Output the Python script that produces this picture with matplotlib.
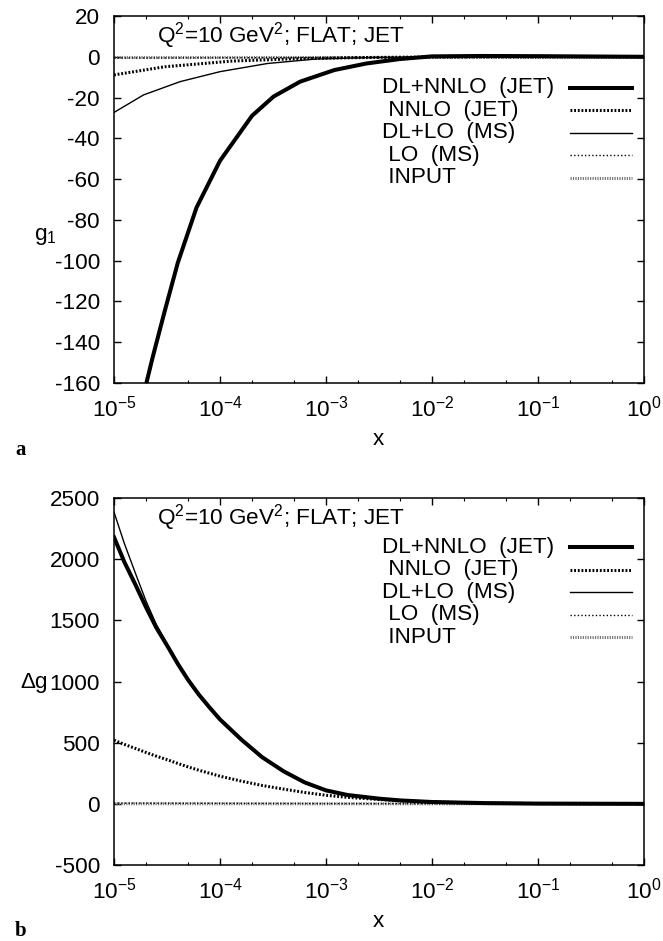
#!/usr/bin/env python3
"""
g1 y Delta g a Q^2 = 10 GeV^2 (FLAT; JET), dos paneles estilo gnuplot
"""

import matplotlib
matplotlib.use('Agg')
import matplotlib.pyplot as plt
from matplotlib.ticker import LogLocator, NullFormatter, MultipleLocator

# ---------------- datos panel a: g1 ----------------
x_g1_dlnnlo = [1e-5, 1.5e-5, 2e-5, 2.3e-5, 3e-5, 4e-5, 6e-5, 1e-4, 2e-4, 3.2e-4,
               5.7e-4, 1.2e-3, 2.4e-3, 5e-3, 1e-2, 3e-2, 1e-1, 1.0]
g1_dlnnlo = [-245, -195, -161, -148, -125, -101, -74, -51, -29, -19.5,
             -12.2, -6.5, -3.3, -1.1, 0.2, 0.4, 0.3, 0.0]

x_g1_nnlo = [1e-5, 3e-5, 1.3e-4, 5e-4, 2e-3, 1e-2, 1e-1, 1.0]
g1_nnlo = [-8.9, -4.9, -2.1, -1.0, -0.4, -0.1, 0.0, 0.0]

x_g1_dllo = [1e-5, 1.9e-5, 4.2e-5, 1e-4, 2.8e-4, 8e-4, 3e-3, 1e-2, 1e-1, 1.0]
g1_dllo = [-27.3, -18.7, -12.2, -7.3, -3.3, -1.1, -0.3, -0.1, 0.0, 0.0]

x_g1_lo = [1e-5, 1e-4, 1e-3, 1e-2, 1e-1, 1.0]
g1_lo = [-0.6, -0.5, -0.3, -0.1, 0.0, 0.0]

x_g1_input = [1e-5, 1e-4, 1e-3, 1e-2, 1e-1, 1.0]
g1_input = [0.0, 0.0, 0.0, 0.0, 0.0, 0.0]

# ---------------- datos panel b: Delta g ----------------
x_dg = [1e-5, 1.25e-5, 1.6e-5, 2e-5, 2.5e-5, 3.2e-5, 4e-5, 5e-5, 6.3e-5, 8e-5,
        1e-4, 1.6e-4, 2.5e-4, 4e-4, 6.3e-4, 1e-3, 1.6e-3, 3.2e-3, 5e-3, 1e-2,
        3.2e-2, 1e-1, 1.0]
dg_dlnnlo = [2180, 1978, 1788, 1609, 1442, 1288, 1144, 1013, 894, 786,
             690, 523, 381, 265, 175, 110, 72, 42, 28, 15,
             6, 2, 0]
dg_nnlo = [520, 486, 452, 420, 390, 360, 330, 302, 275, 250,
           226, 185, 150, 120, 93, 70, 53, 35, 26, 15,
           6, 2, 0]
dg_dllo = [2385, 2130, 1880, 1660, 1468, 1300, 1150, 1018, 898, 789,
           693, 525, 383, 267, 176, 111, 72, 42, 28, 15,
           6, 2, 0]

x_dg_lo = [1e-5, 1e-4, 1e-3, 1e-2, 1e-1, 1.0]
dg_lo = [6, 4, 2, 1, 0.3, 0]

x_dg_input = [1e-5, 1e-4, 1e-3, 1e-2, 1e-1, 1.0]
dg_input = [0.5, 0.5, 0.5, 0.4, 0.3, 0.0]

labels = ['DL+NNLO  (JET)', ' NNLO  (JET)', 'DL+LO  (MS)', ' LO  (MS)', ' INPUT']
title = r'Q$^2$=10 GeV$^2$; FLAT; JET'

# estilos de linea (parecidos a gnuplot)
styles = [
    dict(color='black', lw=2.9, ls='-'),
    dict(color='black', lw=2.2, ls=(0, (0.6, 0.6))),
    dict(color='black', lw=1.0, ls='-'),
    dict(color='black', lw=1.0, ls=(0, (1.0, 1.6))),
    dict(color='#777777', lw=2.2, ls=(0, (0.4, 0.4))),
]

plt.rcParams['font.family'] = ['Liberation Sans', 'DejaVu Sans']
plt.rcParams['mathtext.fontset'] = 'custom'
plt.rcParams['mathtext.rm'] = 'Liberation Sans'
plt.rcParams['mathtext.it'] = 'Liberation Sans:italic'
plt.rcParams['mathtext.default'] = 'regular'
plt.rcParams['axes.unicode_minus'] = False
plt.rcParams['font.size'] = 16.2

W, H = 663, 941
fig = plt.figure(figsize=(W / 100, H / 100), dpi=100)

def px_axes(left, top, right, bottom):
    return fig.add_axes([left / W, 1 - bottom / H, (right - left) / W, (bottom - top) / H])

ax1 = px_axes(114, 16, 644, 383)
ax2 = px_axes(114, 498, 644, 865)

def style_axis(ax, ylim, ystep):
    ax.set_xscale('log')
    ax.set_xlim(1e-5, 1.0)
    ax.set_ylim(*ylim)
    ax.yaxis.set_major_locator(MultipleLocator(ystep))
    ax.xaxis.set_major_locator(LogLocator(base=10, numticks=10))
    ax.xaxis.set_minor_locator(LogLocator(base=10, subs=(2.0, 5.0), numticks=10))
    ax.xaxis.set_minor_formatter(NullFormatter())
    ax.tick_params(which='both', direction='in', top=True, right=True)
    ax.tick_params(which='major', length=5, width=1.0)
    ax.tick_params(which='minor', length=2.5, width=0.8)
    ax.tick_params(axis='x', which='major', pad=9)
    ax.tick_params(axis='y', which='major', pad=10)
    for s in ax.spines.values():
        s.set_linewidth(1.1)
    ax.set_xlabel('x')
    ax.xaxis.set_label_coords(0.498, -0.125)

def draw_key(ax, y0):
    dy = 22.5 / 367
    for i, (lab, st) in enumerate(zip(labels, styles)):
        y = y0 - i * dy
        ax.text(0.506, y, lab, transform=ax.transAxes, ha='left', va='center')
        ax.plot([0.860, 0.977], [y, y], transform=ax.transAxes, clip_on=False, **st)

# panel a
series_a = [(x_g1_dlnnlo, g1_dlnnlo), (x_g1_nnlo, g1_nnlo), (x_g1_dllo, g1_dllo),
            (x_g1_lo, g1_lo), (x_g1_input, g1_input)]
for (xs, ys), st in zip(series_a[::-1], styles[::-1]):
    ax1.plot(xs, ys, **st)
style_axis(ax1, (-160, 20), 20)
ax1.text(0.081, 0.948, title, transform=ax1.transAxes, ha='left', va='center')
ax1.set_ylabel('g$_1$', rotation=0, ha='center', va='center')
ax1.yaxis.set_label_coords(-0.13, 0.4)
draw_key(ax1, 0.804)

# panel b
series_b = [(x_dg, dg_dlnnlo), (x_dg, dg_nnlo), (x_dg, dg_dllo),
            (x_dg_lo, dg_lo), (x_dg_input, dg_input)]
for (xs, ys), st in zip(series_b[::-1], styles[::-1]):
    ax2.plot(xs, ys, **st)
style_axis(ax2, (-500, 2500), 500)
ax2.text(0.081, 0.946, title, transform=ax2.transAxes, ha='left', va='center')
ax2.set_ylabel('Δg', rotation=0, ha='center', va='center')
ax2.yaxis.set_label_coords(-0.15, 0.496)
draw_key(ax2, 0.866)

# etiquetas de panel
fig.text(15 / W, 1 - 455 / H, 'a', family=['Liberation Serif', 'DejaVu Serif'],
         fontweight='bold', fontsize=15, ha='left', va='baseline')
fig.text(15 / W, 1 - 936 / H, 'b', family=['Liberation Serif', 'DejaVu Serif'],
         fontweight='bold', fontsize=15, ha='left', va='baseline')

fig.savefig('out.png', dpi=100)
